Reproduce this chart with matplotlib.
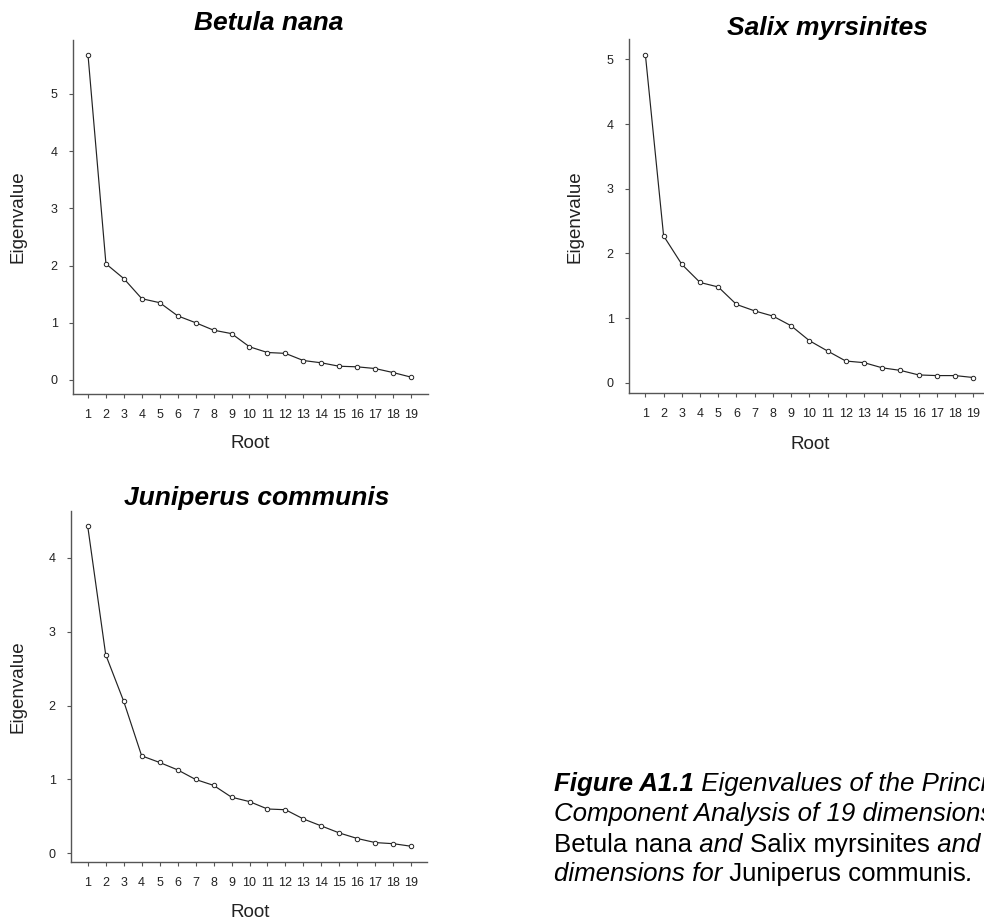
import matplotlib
matplotlib.use("Agg")
import matplotlib.pyplot as plt

plt.rcParams['font.family'] = ['Liberation Sans', 'DejaVu Sans']

W, H = 984, 922

roots = list(range(1, 20))

betula = [5.68, 2.03, 1.77, 1.42, 1.35, 1.12, 1.00, 0.87, 0.81, 0.58,
          0.48, 0.465, 0.34, 0.30, 0.24, 0.23, 0.20, 0.13, 0.05]
salix = [5.07, 2.27, 1.83, 1.55, 1.48, 1.21, 1.11, 1.03, 0.88, 0.65,
         0.49, 0.335, 0.31, 0.23, 0.19, 0.12, 0.11, 0.11, 0.08]
juniperus = [4.43, 2.69, 2.06, 1.32, 1.23, 1.13, 1.00, 0.92, 0.76, 0.70,
             0.60, 0.59, 0.465, 0.37, 0.275, 0.20, 0.145, 0.13, 0.095]

# panel layout in pixels: box (left, top, right, bottom), limits, title centre,
# x-label centre, y-label centre
panels = [
    {"name": "Betula nana", "vals": betula, "box": (73, 40, 428, 394),
     "xlim": (0.164, 19.95), "ylim": (-0.245, 5.94), "yticks": range(0, 6),
     "title": (269, 23), "xlab": (250, 443), "ylab": (18, 217)},
    {"name": "Salix myrsinites", "vals": salix, "box": (629, 39.3, 990.6, 393.3),
     "xlim": (0.1, 19.95), "ylim": (-0.164, 5.31), "yticks": range(0, 6),
     "title": (827, 28), "xlab": (810, 444), "ylab": (575, 217)},
    {"name": "Juniperus communis", "vals": juniperus, "box": (71, 510.7, 427.3, 862.3),
     "xlim": (0.07, 19.89), "ylim": (-0.122, 4.64), "yticks": range(0, 5),
     "title": (257, 498), "xlab": (250, 912), "ylab": (18, 687)},
]

AXCOL = "#555555"
LINECOL = "#222222"

fig = plt.figure(figsize=(W / 100, H / 100), dpi=100)
fig.patch.set_facecolor("white")


def fx(px):
    return px / W


def fy(py):
    return 1 - py / H


for p in panels:
    l, t, r, b = p["box"]
    ax = fig.add_axes([fx(l), fy(b), (r - l) / W, (b - t) / H])
    ax.plot(roots, p["vals"], color=LINECOL, lw=0.85, marker="o", ms=3.2,
            mfc="white", mec=LINECOL, mew=0.7, clip_on=False)
    ax.set_xlim(*p["xlim"])
    ax.set_ylim(*p["ylim"])
    ax.set_xticks(roots)
    ax.set_yticks(list(p["yticks"]))
    for s in ["top", "right"]:
        ax.spines[s].set_visible(False)
    for s in ["left", "bottom"]:
        ax.spines[s].set_color(AXCOL)
        ax.spines[s].set_linewidth(1.0)
    ax.tick_params(direction="out", length=3, width=0.8, color=AXCOL,
                   labelsize=9, labelcolor="#222222")
    ax.tick_params(axis="x", pad=7.5)
    ax.tick_params(axis="y", pad=8)

    ax.set_xlabel("Root", fontsize=13.5, color="#222222", va="center")
    ax.xaxis.set_label_coords(fx(p["xlab"][0]), fy(p["xlab"][1]), transform=fig.transFigure)
    ax.set_ylabel("Eigenvalue", fontsize=13.5, color="#222222", va="center")
    ax.yaxis.set_label_coords(fx(p["ylab"][0]), fy(p["ylab"][1]), transform=fig.transFigure)

    fig.text(fx(p["title"][0]), fy(p["title"][1]), p["name"], fontsize=19,
             fontweight="bold", fontstyle="italic", ha="center", va="center")

# caption with mixed styles, drawn piece by piece (runs off the right edge as in the source)
caption = [
    [("Figure A1.1", "bold", "italic"), (" Eigenvalues of the Principal", "normal", "italic")],
    [("Component Analysis of 19 dimensions for", "normal", "italic")],
    [("Betula nana", "normal", "normal"), (" and ", "normal", "italic"),
     ("Salix myrsinites", "normal", "normal"), (" and 19", "normal", "italic")],
    [("dimensions for", "normal", "italic"), (" Juniperus communis", "normal", "normal"),
     (".", "normal", "italic")],
]
cap_x = 554
cap_base = [791, 821, 852, 881]

fig.canvas.draw()
renderer = fig.canvas.get_renderer()
for line, yb in zip(caption, cap_base):
    x = cap_x
    for txt, weight, style in line:
        tt = fig.text(fx(x), fy(yb), txt, fontsize=18.6, fontweight=weight,
                      fontstyle=style, ha="left", va="baseline")
        bb = tt.get_window_extent(renderer)
        x += bb.width

fig.savefig("out.png", dpi=100)
